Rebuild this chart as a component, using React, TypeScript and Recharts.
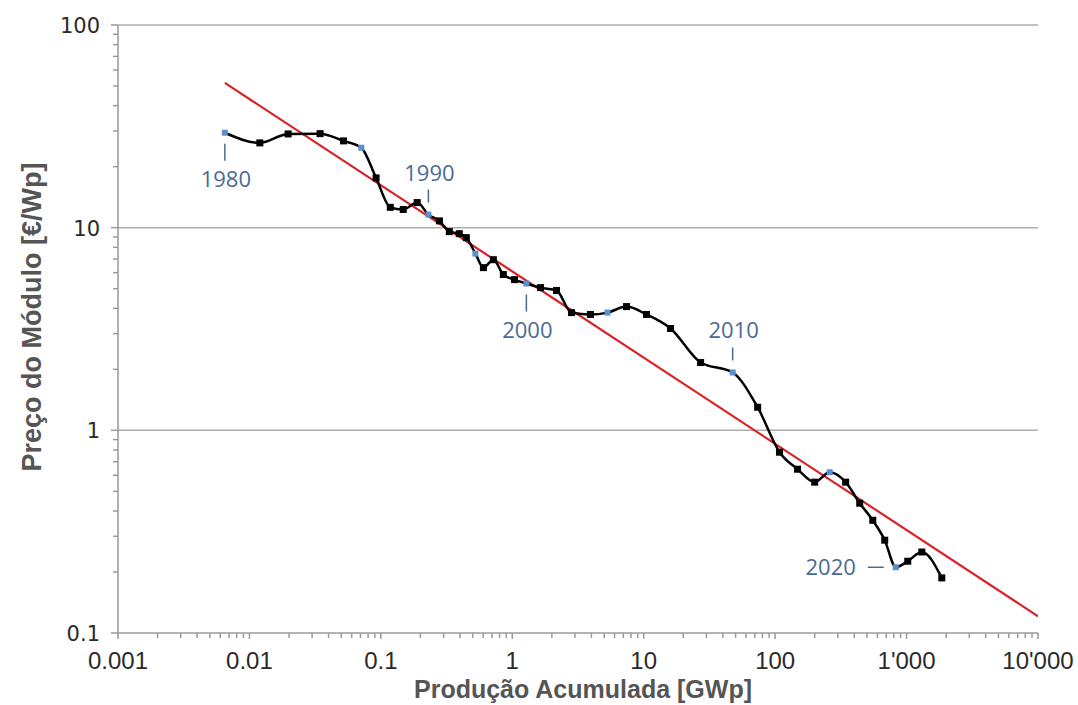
import {
  ScatterChart, Scatter, XAxis, YAxis, ReferenceLine, Label,
} from "recharts";

// cumulative production [GWp] vs module price [€/Wp], one point per year
const YEARS = [
  1980, 1981, 1982, 1983, 1984, 1985, 1986, 1987, 1988, 1989,
  1990, 1991, 1992, 1993, 1994, 1995, 1996, 1997, 1998, 1999,
  2000, 2001, 2002, 2003, 2004, 2005, 2006, 2007, 2008, 2009,
  2010, 2011, 2012, 2013, 2014, 2015, 2016, 2017, 2018, 2019,
  2020, 2021, 2022, 2023,
];
const PRODUCTION = [
  0.0065, 0.012, 0.0197, 0.0345, 0.052, 0.071, 0.092, 0.118, 0.148, 0.189,
  0.23, 0.279, 0.332, 0.395, 0.447, 0.524, 0.603, 0.718, 0.855, 1.04,
  1.28, 1.64, 2.17, 2.82, 3.93, 5.3, 7.4, 10.5, 16.0, 27.1,
  47.5, 73.6, 108, 148, 200, 260, 344, 440, 553, 682,
  828, 1021, 1306, 1854,
];
const PRICE = [
  29.4, 26.2, 29.0, 29.1, 26.8, 24.8, 17.6, 12.6, 12.3, 13.3,
  11.6, 10.8, 9.56, 9.34, 8.93, 7.45, 6.35, 6.95, 5.87, 5.54,
  5.3, 5.06, 4.9, 3.81, 3.73, 3.81, 4.08, 3.73, 3.18, 2.16,
  1.93, 1.3, 0.78, 0.643, 0.555, 0.621, 0.555, 0.437, 0.36, 0.287,
  0.211, 0.226, 0.251, 0.187,
];

// learning curve fit (two end points of the straight line in log-log)
const FIT_X = [0.0065, 10000];
const FIT_Y = [51.8, 0.121];

const LABELLED_YEARS = [1980, 1990, 2000, 2010, 2020];

const X_MAJOR = [0.001, 0.01, 0.1, 1, 10, 100, 1000, 10000];
const X_LABELS = ["0.001", "0.01", "0.1", "1", "10", "100", "1'000", "10'000"];
const Y_MAJOR = [0.1, 1, 10, 100];
const Y_LABELS = ["0.1", "1", "10", "100"];
const GRID_Y = [1, 10, 100];

const minorTicks = (majors: number[]) => {
  const out: number[] = [];
  majors.slice(0, -1).forEach((m) => {
    for (let k = 2; k <= 9; k++) out.push(+(m * k).toPrecision(3));
  });
  return out;
};
const X_TICKS = [...X_MAJOR, ...minorTicks(X_MAJOR)].sort((a, b) => a - b);
const Y_TICKS = [...Y_MAJOR, ...minorTicks(Y_MAJOR)].sort((a, b) => a - b);

const series = YEARS.map((year, i) => ({ year, x: PRODUCTION[i], y: PRICE[i] }));
const fit = FIT_X.map((x, i) => ({ x, y: FIT_Y[i] }));
const labelled = series.filter((d) => LABELLED_YEARS.includes(d.year));

const AXIS = "#9a9a9a";
const BLUE_TEXT = "#4a6a95";
const BLUE_DOT = "#5a8fd0";

const placement: Record<number, "above" | "below" | "left"> = {
  1980: "below", 1990: "above", 2000: "below", 2010: "above", 2020: "left",
};

const XTick = (props: any) => {
  const { x, y, payload } = props;
  const i = X_MAJOR.indexOf(payload.value);
  return (
    <g transform={`translate(${x},${y})`}>
      <line x1={0} x2={0} y1={0} y2={i >= 0 ? 6 : 5} stroke={AXIS} strokeWidth={1.5} />
      {i >= 0 && (
        <text
          x={0} y={36} textAnchor="middle"
          fontFamily="'Liberation Sans', Arial, sans-serif" fontSize={24} fill="#2a2a2a"
        >
          {X_LABELS[i]}
        </text>
      )}
    </g>
  );
};

const YTick = (props: any) => {
  const { x, y, payload } = props;
  const i = Y_MAJOR.indexOf(payload.value);
  return (
    <g transform={`translate(${x},${y})`}>
      <line x1={i >= 0 ? -7 : -5} x2={0} y1={0} y2={0} stroke={AXIS} strokeWidth={1.5} />
      {i >= 0 && (
        <text
          x={-18} y={8} textAnchor="end"
          fontFamily="'DejaVu Sans', Verdana, sans-serif" fontSize={21} fill="#2a2a2a"
        >
          {Y_LABELS[i]}
        </text>
      )}
    </g>
  );
};

const YearMarker = (props: any) => {
  const { cx, cy, payload } = props;
  const blue = payload.year % 5 === 0;
  const s = blue ? 6 : 7;
  return <rect x={cx - s / 2} y={cy - s / 2} width={s} height={s} fill={blue ? BLUE_DOT : "#000"} />;
};

const YearLabel = (props: any) => {
  const { cx, cy, payload } = props;
  const side = placement[payload.year];
  const txt = { fontFamily: "'Open Sans', sans-serif", fontSize: 22, fill: BLUE_TEXT };
  if (side === "left") {
    return (
      <g>
        <line x1={cx - 28} x2={cx - 12} y1={cy} y2={cy} stroke={BLUE_TEXT} strokeWidth={1.5} />
        <text x={cx - 40} y={cy + 8} textAnchor="end" {...txt}>{payload.year}</text>
      </g>
    );
  }
  const up = side === "above";
  return (
    <g>
      <line
        x1={cx} x2={cx}
        y1={up ? cy - 25 : cy + 11} y2={up ? cy - 12 : cy + 28}
        stroke={BLUE_TEXT} strokeWidth={1.5}
      />
      <text x={cx + 1} y={up ? cy - 34 : cy + 54} textAnchor="middle" {...txt}>{payload.year}</text>
    </g>
  );
};

const NoMarker = () => <g />;

export default function App() {
  return (
    <div style={{ position: "absolute", left: 0, top: 0, background: "#fff" }}>
      <ScatterChart width={1078} height={705} margin={{ top: 25, right: 40, left: 0, bottom: 0 }}>
        <XAxis
          dataKey="x" type="number" scale="log" domain={[0.001, 10000]} allowDataOverflow
          ticks={X_TICKS} interval={0} tick={(p: any) => <XTick {...p} />}
          tickLine={false} tickSize={0} tickMargin={0} height={72}
          axisLine={{ stroke: AXIS, strokeWidth: 1.5 }}
        >
          <Label
            content={(p: any) => {
              const vb = p.viewBox;
              return (
                <text
                  x={vb.x + vb.width / 2 + 5} y={vb.y + 65} textAnchor="middle"
                  fontFamily="'Liberation Sans', Arial, sans-serif" fontWeight="bold"
                  fontSize={25} fill="#555"
                >
                  Produção Acumulada [GWp]
                </text>
              );
            }}
          />
        </XAxis>
        <YAxis
          dataKey="y" type="number" scale="log" domain={[0.1, 100]} allowDataOverflow
          ticks={Y_TICKS} interval={0} tick={(p: any) => <YTick {...p} />}
          tickLine={false} tickSize={0} tickMargin={0} width={118}
          axisLine={{ stroke: AXIS, strokeWidth: 1.5 }}
        >
          <Label
            content={() => (
              <text
                x={0} y={0} transform="translate(41,317) rotate(-90)" textAnchor="middle"
                fontFamily="'Liberation Sans', Arial, sans-serif" fontWeight="bold"
                fontSize={27} fill="#555"
              >
                Preço do Módulo [€/Wp]
              </text>
            )}
          />
        </YAxis>
        {GRID_Y.map((v) => (
          <ReferenceLine key={v} y={v} stroke="#adadad" strokeWidth={1.5} />
        ))}
        <Scatter
          data={fit} shape={<NoMarker />} line={{ stroke: "#d8232a", strokeWidth: 2.2 }}
          isAnimationActive={false}
        />
        <Scatter
          data={series} shape={<YearMarker />}
          line={{ stroke: "#000", strokeWidth: 2.5 }} lineJointType="monotoneX"
          isAnimationActive={false}
        />
        <Scatter data={labelled} shape={<YearLabel />} isAnimationActive={false} />
      </ScatterChart>
    </div>
  );
}
